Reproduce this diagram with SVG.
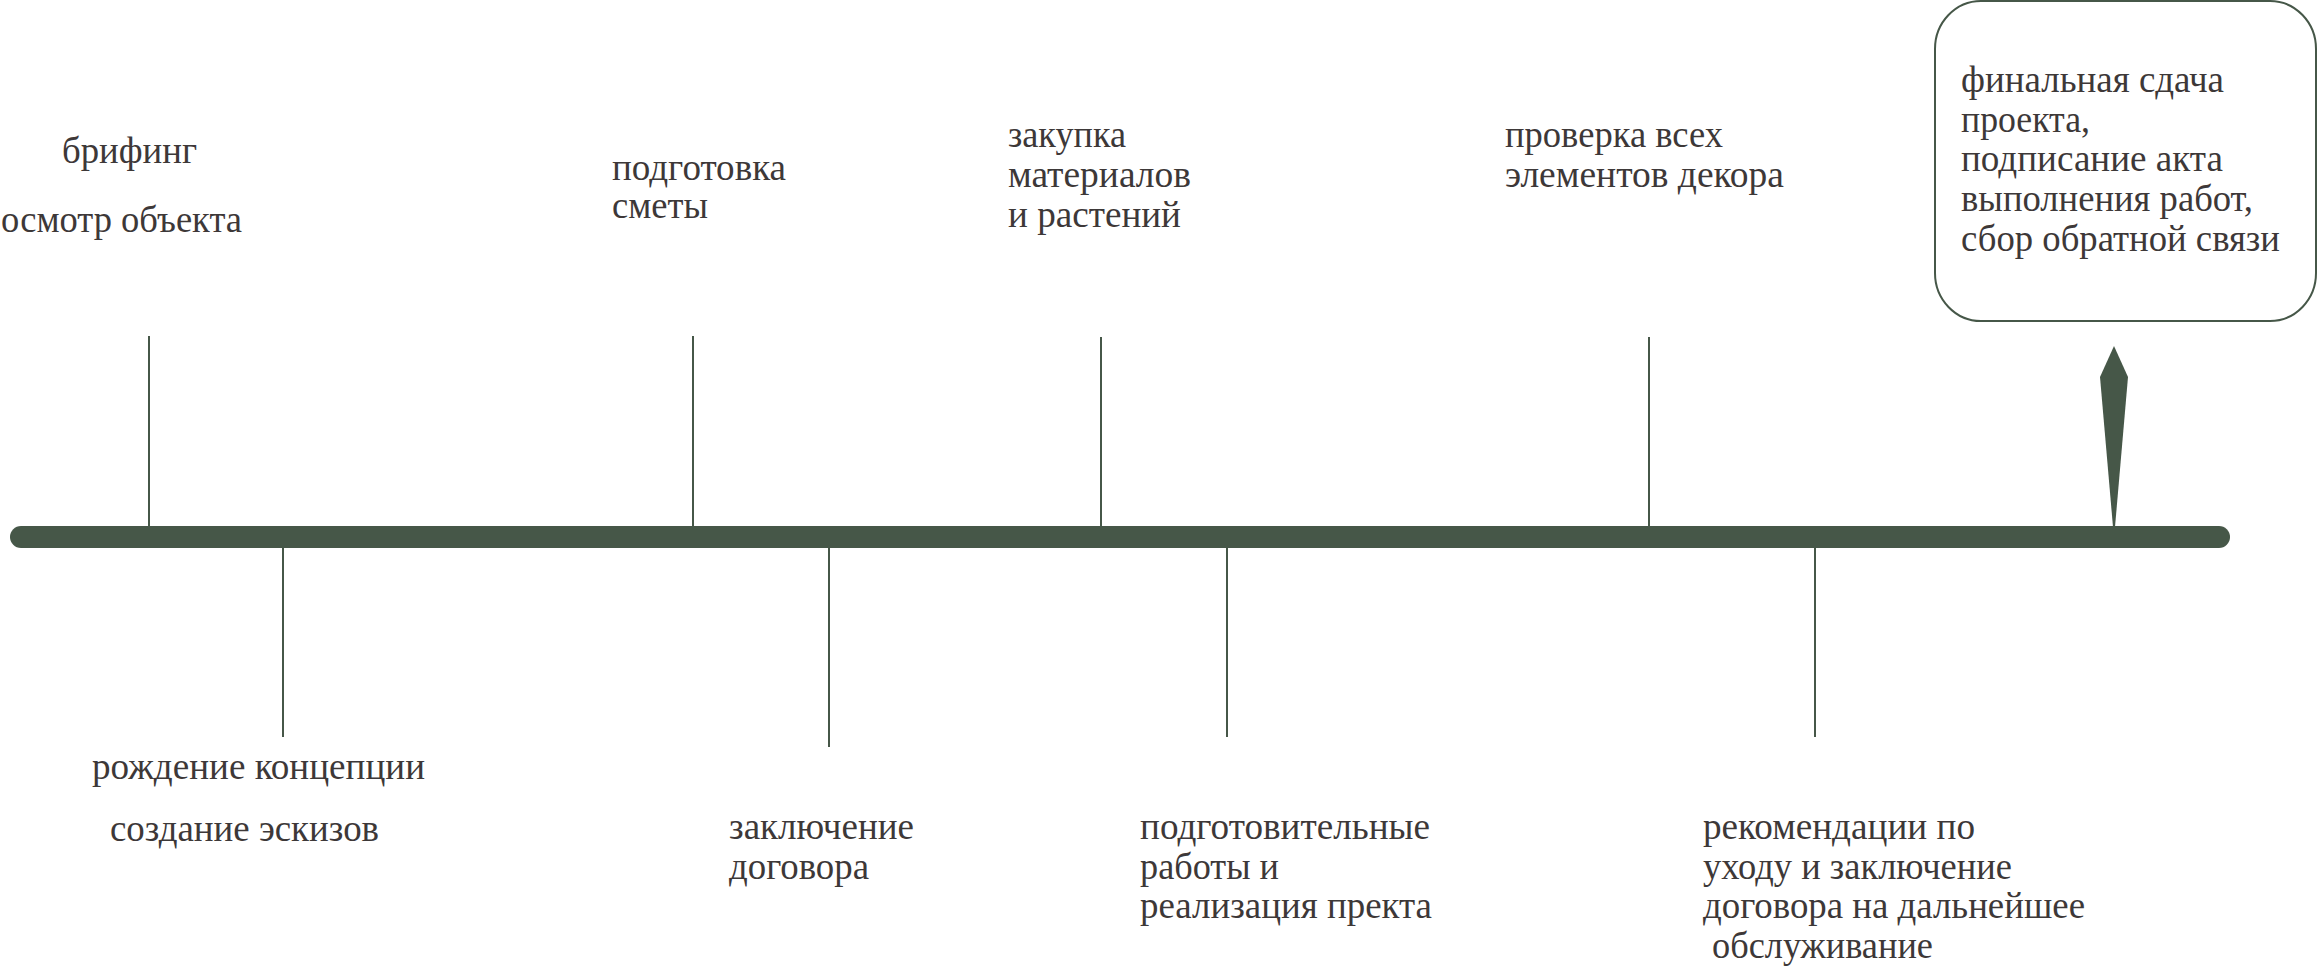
<svg xmlns="http://www.w3.org/2000/svg" width="2318" height="969" viewBox="0 0 2318 969">
<style>
  .t { font-family: "Liberation Serif", "DejaVu Serif", serif; font-size: 38px; fill: #3d3838; }
  .tick { stroke: #465748; stroke-width: 2; fill: none; }
  .box { fill: #ffffff; stroke: #465748; stroke-width: 2; }
</style>
<rect width="2318" height="969" fill="#ffffff"/>
<g id="connectors">
  <line x1="21" y1="537" x2="2219" y2="537" stroke="#465748" stroke-width="22" stroke-linecap="round"/>
  <line class="tick" x1="149" y1="336" x2="149" y2="527"/>
  <line class="tick" x1="693" y1="336" x2="693" y2="527"/>
  <line class="tick" x1="1101" y1="337" x2="1101" y2="527"/>
  <line class="tick" x1="1649" y1="337" x2="1649" y2="527"/>
  <line class="tick" x1="283" y1="547" x2="283" y2="737"/>
  <line class="tick" x1="829" y1="547" x2="829" y2="747"/>
  <line class="tick" x1="1227" y1="547" x2="1227" y2="737"/>
  <line class="tick" x1="1815" y1="547" x2="1815" y2="737"/>
  <path d="M2114,346 L2128,377 L2115,527 L2113,527 L2100,377 Z" fill="#465748"/>
</g>
<g id="node-brifing">
  <text class="t" x="62" y="163" textLength="135" lengthAdjust="spacingAndGlyphs">брифинг</text>
  <text class="t" x="1" y="232" textLength="241" lengthAdjust="spacingAndGlyphs">осмотр объекта</text>
</g>
<g id="node-koncepciya">
  <text class="t" x="92" y="779" textLength="333" lengthAdjust="spacingAndGlyphs">рождение концепции</text>
  <text class="t" x="110" y="841" textLength="269" lengthAdjust="spacingAndGlyphs">создание эскизов</text>
</g>
<g id="node-smeta">
  <text class="t" x="612" y="180" textLength="174" lengthAdjust="spacingAndGlyphs">подготовка</text>
  <text class="t" x="612" y="218" textLength="96" lengthAdjust="spacingAndGlyphs">сметы</text>
</g>
<g id="node-dogovor">
  <text class="t" x="729" y="839" textLength="185" lengthAdjust="spacingAndGlyphs">заключение</text>
  <text class="t" x="729" y="879" textLength="140" lengthAdjust="spacingAndGlyphs">договора</text>
</g>
<g id="node-zakupka">
  <text class="t" x="1008" y="147" textLength="118" lengthAdjust="spacingAndGlyphs">закупка</text>
  <text class="t" x="1008" y="187" textLength="183" lengthAdjust="spacingAndGlyphs">материалов</text>
  <text class="t" x="1008" y="227" textLength="173" lengthAdjust="spacingAndGlyphs">и растений</text>
</g>
<g id="node-realizaciya">
  <text class="t" x="1140" y="839" textLength="290" lengthAdjust="spacingAndGlyphs">подготовительные</text>
  <text class="t" x="1140" y="879" textLength="139" lengthAdjust="spacingAndGlyphs">работы и</text>
  <text class="t" x="1140" y="918" textLength="292" lengthAdjust="spacingAndGlyphs">реализация пректа</text>
</g>
<g id="node-proverka">
  <text class="t" x="1505" y="147" textLength="218" lengthAdjust="spacingAndGlyphs">проверка всех</text>
  <text class="t" x="1505" y="187" textLength="279" lengthAdjust="spacingAndGlyphs">элементов декора</text>
</g>
<g id="node-rekomendacii">
  <text class="t" x="1703" y="839" textLength="272" lengthAdjust="spacingAndGlyphs">рекомендации по</text>
  <text class="t" x="1703" y="879" textLength="309" lengthAdjust="spacingAndGlyphs">уходу и заключение</text>
  <text class="t" x="1703" y="918" textLength="382" lengthAdjust="spacingAndGlyphs">договора на дальнейшее</text>
  <text class="t" x="1712" y="958" textLength="221" lengthAdjust="spacingAndGlyphs">обслуживание</text>
</g>
<g id="node-final">
  <rect class="box" x="1935" y="1" width="381" height="320" rx="46" ry="48"/>
  <text class="t" x="1961" y="92" textLength="263" lengthAdjust="spacingAndGlyphs">финальная сдача</text>
  <text class="t" x="1961" y="132" textLength="129" lengthAdjust="spacingAndGlyphs">проекта,</text>
  <text class="t" x="1961" y="171" textLength="262" lengthAdjust="spacingAndGlyphs">подписание акта</text>
  <text class="t" x="1961" y="211" textLength="292" lengthAdjust="spacingAndGlyphs">выполнения работ,</text>
  <text class="t" x="1961" y="251" textLength="319" lengthAdjust="spacingAndGlyphs">сбор обратной связи</text>
</g>
</svg>
